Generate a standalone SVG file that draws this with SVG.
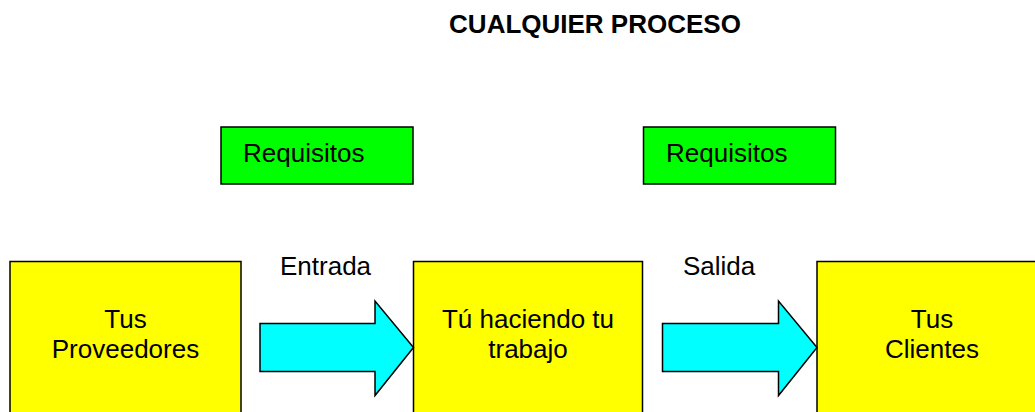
<svg xmlns="http://www.w3.org/2000/svg" width="1035" height="412" viewBox="0 0 1035 412">
<style>
text{font-family:"Liberation Sans",Arial,sans-serif;font-size:26px;fill:#000}
.title{font-weight:bold}
.mid{text-anchor:middle}
.box{fill:#ffff00;stroke:#000;stroke-width:1.5}
.req{fill:#00ff00;stroke:#000;stroke-width:1.5}
.arrow{fill:#00ffff;stroke:#000;stroke-width:1.5;stroke-linejoin:miter}
</style>
<rect width="1035" height="412" fill="#fff"/>
<text class="title mid" x="595" y="33">CUALQUIER PROCESO</text>
<g id="req1">
<rect class="req" x="221" y="127" width="192" height="57"/>
<text x="243" y="162">Requisitos</text>
</g>
<g id="req2">
<rect class="req" x="643.5" y="127" width="192" height="57"/>
<text x="666" y="162">Requisitos</text>
</g>
<g id="proveedores">
<rect class="box" x="10" y="261.5" width="231" height="200"/>
<text class="mid" x="125.5" y="328">Tus</text>
<text class="mid" x="125.5" y="358">Proveedores</text>
</g>
<g id="trabajo">
<rect class="box" x="413.5" y="261.5" width="229" height="200"/>
<text class="mid" x="528" y="327.5">Tú haciendo tu</text>
<text class="mid" x="528" y="357.5">trabajo</text>
</g>
<g id="clientes">
<rect class="box" x="817" y="261.5" width="231" height="200"/>
<text class="mid" x="932" y="327.5">Tus</text>
<text class="mid" x="932" y="357.5">Clientes</text>
</g>
<g id="connectors">
<polygon class="arrow" points="260,323.5 375,323.5 375,301 413.5,347.5 375,395.5 375,371.5 260,371.5"/>
<text x="280" y="275">Entrada</text>
<polygon class="arrow" points="662.5,323.5 778.5,323.5 778.5,301 817,347.5 778.5,395.5 778.5,371.5 662.5,371.5"/>
<text x="683" y="275">Salida</text>
</g>
</svg>
